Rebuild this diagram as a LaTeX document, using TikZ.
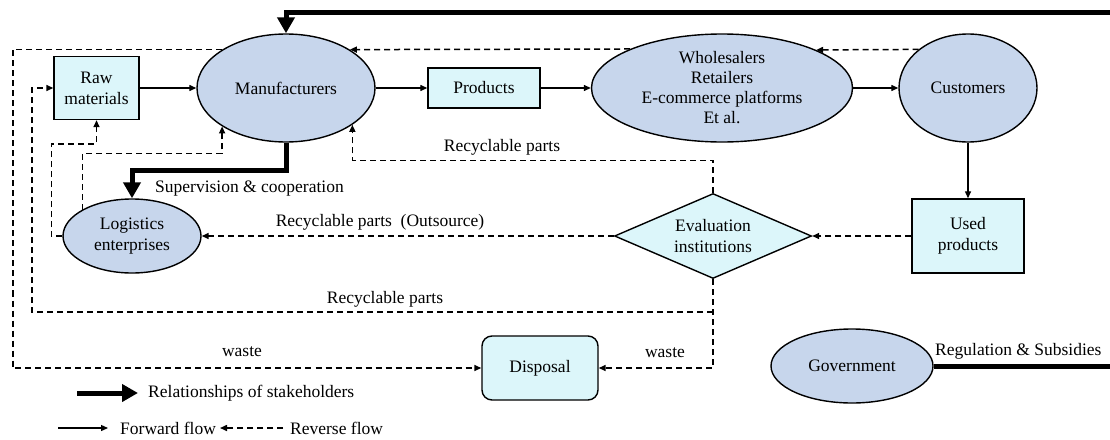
\documentclass[tikz,border=0pt]{standalone}
\usepackage{fontspec}
\setmainfont{Liberation Serif}
\usetikzlibrary{shapes.geometric,arrows.meta}
\definecolor{ellfill}{RGB}{199,214,236}
\definecolor{boxfill}{RGB}{220,246,250}
\begin{document}
\begin{tikzpicture}[x=1pt,y=-1pt,
  font=\fontsize{17.5}{21}\selectfont,
  ell/.style={ellipse, draw=black, line width=1.4pt, fill=ellfill, inner sep=0pt, align=center},
  bx/.style={rectangle, draw=black, line width=1.4pt, fill=boxfill, inner sep=0pt, align=center},
  fwd/.style={line width=1.3pt, -{Triangle[length=7pt,width=6pt]}},
  rev/.style={line width=1.5pt, dash pattern=on 6pt off 4pt, -{Triangle[length=7pt,width=6pt]}},
  rel/.style={line width=5pt, -{Triangle[length=16pt,width=17pt]}},
  lbl/.style={inner sep=0pt}]
\useasboundingbox (0,0) rectangle (1110,439);
\clip (0,0) rectangle (1110,439);

% nodes
\node[bx, minimum width=85pt, minimum height=63pt] (raw) at (96.5,88) {Raw\\materials};
\node[ell, minimum width=178pt, minimum height=108pt] (man) at (286,88) {Manufacturers};
\node[bx, minimum width=112pt, minimum height=40pt] (prod) at (484,88) {Products};
\node[ell, minimum width=261pt, minimum height=108pt] (ws) at (722,88) {};
\node[lbl, align=center, font=\fontsize{17.5}{20}\selectfont] (wstext) at (ws.center) {Wholesalers\\Retailers\\E-commerce platforms\\Et al.};
\node[ell, minimum width=138pt, minimum height=108pt] (cus) at (968,88) {Customers};
\node[bx, minimum width=112pt, minimum height=74pt] (used) at (968,236) {Used\\products};
\node[diamond, draw=black, line width=1.4pt, fill=boxfill, inner sep=0pt, shape aspect=2.3,
      minimum width=197pt, minimum height=85pt, align=center] (eval) at (713,236) {Evaluation\\institutions};
\node[ell, minimum width=138pt, minimum height=74pt] (log) at (132,236) {Logistics\\enterprises};
\node[bx, rounded corners=10pt, minimum width=116pt, minimum height=64pt] (disp) at (540,368) {Disposal};
\node[ell, minimum width=162pt, minimum height=74pt] (gov) at (852,366) {Government};

% helper coordinates
\coordinate (wL) at (13,368);
\coordinate (wR) at (713,368);
\coordinate (j1) at (713,312);
\coordinate (j2) at (32,312);
\coordinate (tR) at (1125,12);
\coordinate (tL) at (286,12);

% forward flow
\draw[fwd] (raw.east) -- (man.west);
\draw[fwd] (man.east) -- (prod.west);
\draw[fwd] (prod.east) -- (ws.west);
\draw[fwd] (ws.east) -- (cus.west);
\draw[fwd] (cus.south) -- (used.north);

% reverse flow
\draw[rev] (cus.142.2) -- (ws.22.4);
\draw[rev] (ws.157.6) -- (man.31);
\draw[rev] (man.149) -| (wL) -- (disp.west);
\draw[rev] (used.west) -- (eval.east);
\draw[rev] (eval.west) -- (log.east);
\draw[rev] (eval.north) -- ++(0,-32.5) -| (man.-29.6);
\draw[rev] (log.152.1) -- ++(0,-56) -| (man.211.2);
\draw[rev] (log.west) -- ++(-11,0) -- ++(0,-92) -| (raw.south);
\draw[rev] (eval.south) -- (wR) -- (disp.east);
\draw[rev] (j1) -- (j2) |- (raw.west);

% stakeholder relationships
\draw[rel] (man.south) -- ++(0,28) -| (log.north);
\draw[rel] (gov.east) -| (tR) -- (tL) -- (man.north);

% labels
\node[lbl, anchor=west] at (155,189) {Supervision \& cooperation};
\node[lbl] at (502,147) {Recyclable parts};
\node[lbl] at (380,222) {Recyclable parts\ \ (Outsource)};
\node[lbl] at (385,299) {Recyclable parts};
\node[lbl] at (242,352) {waste};
\node[lbl] at (665,353) {waste};
\node[lbl, anchor=west] at (935,351) {Regulation \& Subsidies};

% legend
\coordinate (l1a) at (77,393);
\coordinate (l1b) at (138,393);
\draw[rel] (l1a) -- (l1b);
\node[lbl, anchor=west] at (148,393) {Relationships of stakeholders};
\coordinate (l2a) at (58,428);
\coordinate (l2b) at (108,428);
\draw[fwd] (l2a) -- (l2b);
\node[lbl, anchor=west] at (120,428) {Forward flow};
\coordinate (l3a) at (283,428);
\coordinate (l3b) at (220,428);
\draw[rev] (l3a) -- (l3b);
\node[lbl, anchor=west] at (290,428) {Reverse flow};
\end{tikzpicture}
\end{document}
